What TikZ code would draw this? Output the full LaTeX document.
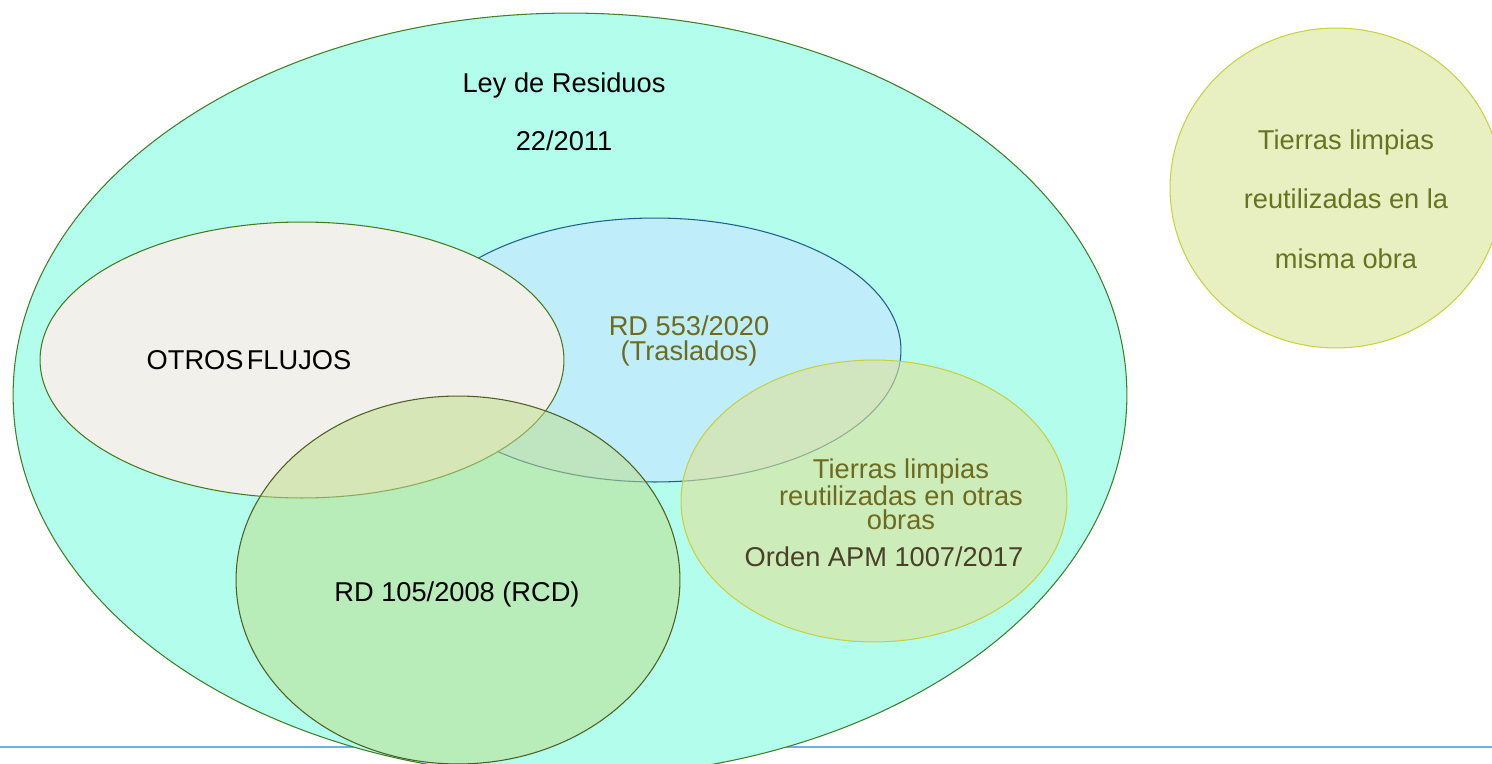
\documentclass[tikz,border=0pt]{standalone}
\usepackage{fontspec}
\setmainfont{Liberation Sans}
\usetikzlibrary{shapes.geometric}

\definecolor{leyfill}{HTML}{B3FDEC}
\definecolor{leyline}{HTML}{3F7F2A}
\definecolor{otrosfill}{HTML}{F2F0EB}
\definecolor{otrosline}{HTML}{4A7A1E}
\definecolor{trasfill}{HTML}{BFEEFA}
\definecolor{trasline}{HTML}{1F5F8B}
\definecolor{rcdfill}{HTML}{BEDD89}
\definecolor{rcdline}{HTML}{4F5F1F}
\definecolor{tierrafill}{HTML}{DDE297}
\definecolor{tierraline}{HTML}{C8D040}
\definecolor{mismafill}{HTML}{E8EFC1}
\definecolor{mismaline}{HTML}{C6D43E}
\definecolor{olivetext}{HTML}{6E6A1E}
\definecolor{greentext}{HTML}{667420}
\definecolor{ordentext}{HTML}{4B3F2A}
\definecolor{rule}{HTML}{6DB0E4}

\begin{document}
\begin{tikzpicture}[
    x=.02cm,
    y=-.02cm,
    set/.style={
      ellipse,
      inner sep=0,
      line width=.6pt,
    },
    label/.style={
      inner sep=0,
      align=center,
      font=\fontsize{15.5}{13.8}\selectfont,
    },
  ]
    \useasboundingbox (0, 0) rectangle (1492, 764);
    \clip (0, 0) rectangle (1492, 764);

    \draw[rule, line width=1.5pt] (0, 747) -- (1492, 747);

    \node[set, draw=leyline, fill=leyfill, minimum width=22.28cm, minimum height=15.28cm] (ley) at (570, 395) {};
    \node[set, draw=trasline, fill=trasfill, minimum width=9.84cm, minimum height=5.28cm] (traslados) at (655, 350) {};
    \node[set, draw=otrosline, fill=otrosfill, minimum width=10.48cm, minimum height=5.52cm] (otros) at (302, 360) {};
    \node[set, draw=rcdline, fill=rcdfill, fill opacity=.52, minimum width=8.88cm, minimum height=7.36cm] (rcd) at (458, 580) {};
    \node[set, draw=tierraline, fill=tierrafill, fill opacity=.6, minimum width=7.72cm, minimum height=5.64cm] (tierras) at (874, 501) {};
    \node[set, draw=mismaline, fill=mismafill, minimum width=6.64cm, minimum height=6.4cm] (misma) at (1336, 188) {};

    \node[label, font=\fontsize{15.5}{33}\selectfont] (leylabel) at (564, 112) {Ley de Residuos\\22/2011};
    \node[label] (otroslabel) at (249, 360) {OTROS\hspace{.12em}FLUJOS};
    \node[label, text=olivetext] (traslabel) at (689, 341) {RD 553/2020\\(Traslados)};
    \node[label] (rcdlabel) at (457, 594) {RD 105/2008 (RCD)};
    \node[label, text=olivetext] (tierralabel) at (901, 494) {Tierras limpias\\reutilizadas en otras\\obras};
    \node[label, text=ordentext] (ordenlabel) at (884, 557) {Orden APM 1007/2017};
    \node[label, text=greentext, font=\fontsize{15.5}{34}\selectfont] (mismalabel) at (1346, 199) {Tierras limpias\\reutilizadas en la\\misma obra};
  \end{tikzpicture}
\end{document}
